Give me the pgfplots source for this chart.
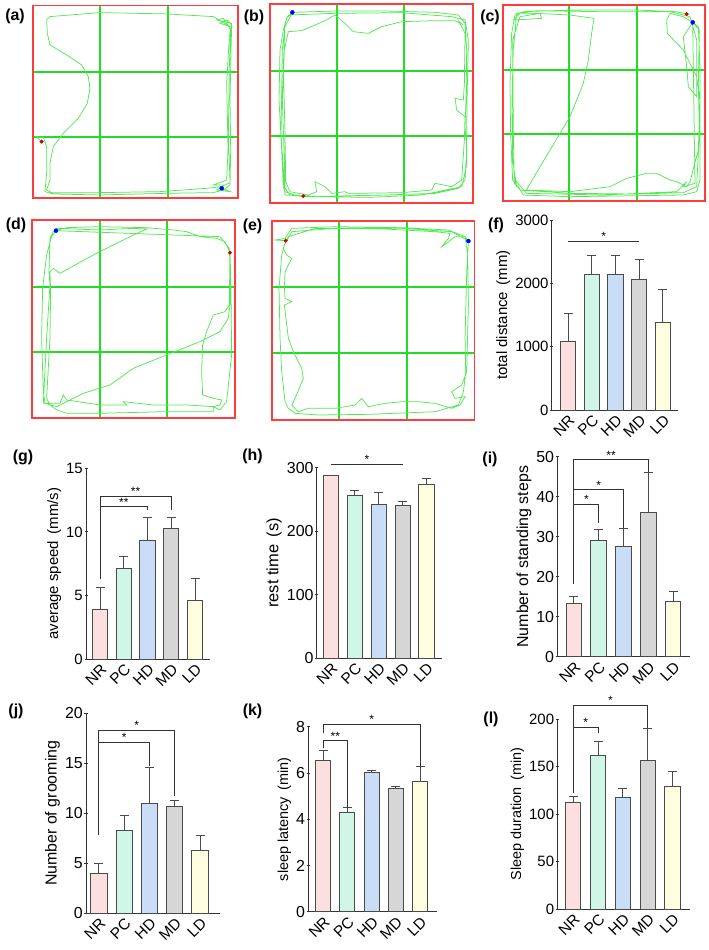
\documentclass[border=0pt]{standalone}
\usepackage{fontspec}
\setmainfont{Liberation Sans}
\usepackage{pgfplots}
\pgfplotsset{compat=1.18}
\definecolor{cNR}{HTML}{FCE0E0}
\definecolor{cPC}{HTML}{CFF6E6}
\definecolor{cHD}{HTML}{C9DEF6}
\definecolor{cMD}{HTML}{D6D6D6}
\definecolor{cLD}{HTML}{FEFDDF}
\definecolor{edge}{HTML}{4A4A4A}
\definecolor{axgray}{HTML}{333333}
\definecolor{tred}{HTML}{FF3B3B}
\definecolor{tgrid}{HTML}{22DD22}
\definecolor{trg}{HTML}{55E855}
\newcommand\fs[1]{\fontsize{#1}{#1}\selectfont}
\newcommand\lp{\hspace{0.45em}(}
\newcommand\rp{)}
\newcommand\onebar[4]{\addplot[fill=#1, draw=edge, line width=1bp,
  error bars/.cd, y dir=plus, y explicit,
  error bar style={draw=edge, line width=1bp},
  error mark options={draw=edge, line width=1bp, mark size=4.5bp, rotate=90}]
  coordinates {(#2,#3) +- (0,#4)};}
\tikzset{
  sigstar/.style={anchor=south, inner sep=0.5bp, font=\fs{12}},
  plab/.style={font=\bfseries\fs{16}}
}
\pgfplotsset{
  trk/.style={scale only axis, anchor=south west, y dir=reverse,
    axis line style={draw=tred, line width=1.7bp},
    grid=major, major grid style={draw=tgrid, line width=1.9bp},
    tick style={draw=none}, xticklabels={}, yticklabels={}},
  traj/.style={draw=trg, line width=0.75bp, no marks},
  sdot/.style={only marks, mark=*, mark size=1.8bp, color=red!80!black},
  edot/.style={only marks, mark=*, mark size=2bp, color=blue},
  barax/.style={scale only axis, anchor=south west, axis lines=left,
    axis line style={-, draw=axgray, line width=0.9bp},
    ymin=0, clip=false, xtick={0,1,2,3,4}, xticklabels={NR,PC,HD,MD,LD},
    x tick label style={rotate=45, anchor=north east, inner sep=0.5bp, font=\fs{15.5}},
    major x tick style={draw=none},
    major y tick style={draw=axgray, line width=0.9bp},
    major tick length=3bp,
    y tick label style={font=\fs{15}, inner sep=1.5bp},
    /pgf/number format/assume math mode=true, /pgf/number format/1000 sep={},
    ylabel style={font=\fs{14}},
    ybar, bar width=15.3bp, /pgf/bar shift=0pt},
  brk/.style={sharp plot, no marks, draw=axgray, line width=0.9bp}
}
\begin{document}
\begin{tikzpicture}
\useasboundingbox (0,-950bp) rectangle (709bp,0);
% ---------- (a)
\begin{axis}[trk, at={(33.3bp,-198.3bp)}, width=204.4bp, height=192.7bp,
  xmin=100,xmax=713,ymin=17,ymax=595, xtick={300,505}, ytick={215,410}]
\addplot[traj] coordinates {(125,425) (108,410) (130,412) (140,440) (140,520) (135,575) (160,582) (300,585) (500,580) (640,578) (670,570) (690,555)
 (692,450) (690,300) (693,150) (695,75) (680,60) (660,70) (690,80) (640,50) (500,42) (300,38) (150,50) (140,60) (142,100) (150,135) (200,165) (245,195) (265,230) (270,265) (262,310) (235,355) (190,400) (160,440) (150,490) (150,540) (140,570) (155,578) (300,578) (480,575) (620,565) (665,560) (690,548) (685,400) (688,200) (692,90) (670,55) (650,60) (695,70) (688,110) (680,250) (684,450) (680,540) (640,555) (675,555) (650,570) (690,575) (665,565)};
\addplot[sdot] coordinates {(125,425)};
\addplot[edot] coordinates {(665,565)};
\end{axis}
% ---------- (b)
\begin{axis}[trk, at={(270bp,-202.7bp)}, width=202.7bp, height=198.7bp,
  xmin=105,xmax=713,ymin=12,ymax=608, xtick={305,507}, ytick={212,408}]
\addplot[traj] coordinates {(205,588) (180,585) (150,575) (145,560) (140,450) (132,300) (135,150) (145,90) (155,55) (172,37) (300,33) (450,33) (600,37) (670,45) (690,70) (695,150) (693,300) (690,380) (695,450) (690,540) (670,565) (600,580) (450,585) (300,588) (210,590) (165,585) (150,565) (148,480) (142,300) (148,150) (160,95) (200,92) (270,62) (300,45) (330,70) (355,95) (400,100) (440,80) (500,65) (600,62) (660,62) (680,72) (672,65) (690,100) (688,250) (685,300) (660,295) (665,330) (690,350) (688,420) (680,540) (650,560) (600,550) (590,570) (500,578) (340,580) (330,575) (290,580) (270,560) (240,545) (245,575) (220,585) (165,575) (152,545) (150,400) (145,200) (150,70) (160,45) (300,40) (500,38) (650,50) (690,60) (700,120) (696,300) (694,500) (680,560) (560,585) (400,592) (260,590) (150,585) (138,400) (142,150) (150,80) (172,37)};
\addplot[sdot] coordinates {(205,588)};
\addplot[edot] coordinates {(172,37)};
\end{axis}
% ---------- (c)
\begin{axis}[trk, at={(503.3bp,-201bp)}, width=201.7bp, height=196.3bp,
  xmin=100,xmax=705,ymin=14,ymax=603, xtick={298,500}, ytick={210,403}]
\addplot[traj] coordinates {(650,42) (620,35) (500,30) (300,30) (160,35) (135,45) (125,100) (120,250) (122,400) (128,540) (150,570) (300,580) (500,582) (640,578) (680,560) (688,400) (685,250) (688,90) (668,67) (640,50) (600,40) (590,60) (592,100) (640,150) (665,200) (680,230) (690,300) (685,450) (660,545) (650,560) (620,545) (600,540) (560,520) (530,520) (470,535) (420,560) (300,575) (170,570) (175,560) (240,450) (300,350) (340,250) (355,180) (365,100) (372,55) (300,45) (200,40) (150,40) (130,60) (215,55) (210,40) (150,50) (128,120) (130,400) (133,550) (145,560) (160,585) (300,590) (640,585) (680,575) (690,540) (690,200) (685,80) (668,67) (640,110) (650,200) (655,260) (680,290) (680,120) (660,50) (600,35) (400,35) (200,32) (140,40) (130,150) (126,300) (128,480) (140,560) (135,540) (170,580) (400,585) (620,575) (650,545) (640,560) (675,550) (668,67)};
\addplot[sdot] coordinates {(650,42)};
\addplot[edot] coordinates {(668,67)};
\end{axis}
% ---------- (d)
\begin{axis}[trk, at={(32.3bp,-418.3bp)}, width=203bp, height=198.3bp,
  xmin=97,xmax=706,ymin=45,ymax=640, xtick={300,500}, ytick={245,440}]
\addplot[traj] coordinates {(690,143) (692,200) (690,300) (685,340) (660,380) (600,410) (500,450) (400,490) (330,540) (250,565) (170,605) (135,595) (130,560) (125,400) (128,250) (140,150) (155,95) (168,77) (200,68) (300,65) (440,68) (520,75) (560,80) (600,95) (650,100) (675,110) (690,143) (688,300) (675,320) (640,330) (620,380) (608,420) (605,500) (608,570) (640,580) (665,585) (660,600) (640,605) (640,620) (600,620) (500,620) (300,625) (200,625) (170,615) (150,600) (140,580) (150,400) (152,260) (150,200) (160,190) (180,205) (280,150) (380,100) (440,72) (400,70) (300,75) (170,70) (160,80) (150,100) (147,200) (150,240) (140,400) (130,595) (180,595) (190,570) (200,585) (300,600) (380,600) (370,590) (460,600) (560,600) (640,605) (660,615) (680,590) (695,450) (693,250) (688,130) (660,95) (168,77)};
\addplot[sdot] coordinates {(690,143)};
\addplot[edot] coordinates {(168,77)};
\end{axis}
% ---------- (e)
\begin{axis}[trk, at={(271.7bp,-420bp)}, width=202.7bp, height=199.3bp,
  xmin=110,xmax=718,ymin=47,ymax=645, xtick={313,515}, ytick={245,443}]
\addplot[traj] coordinates {(152,107) (120,105) (150,100) (170,70) (300,65) (500,68) (640,75) (690,95) (700,108) (695,200) (690,400) (692,500) (685,560) (670,600) (600,620) (400,628) (250,630) (180,625) (160,610) (150,590) (140,500) (135,400) (132,250) (140,150) (152,107) (160,95) (240,70) (450,72) (600,80) (645,85) (640,100) (620,125) (640,110) (660,95) (690,95) (698,150) (700,300) (695,500) (680,540) (650,560) (660,580) (690,575) (675,600) (650,610) (600,595) (550,590) (500,590) (450,595) (400,605) (380,580) (360,600) (300,610) (220,610) (190,620) (170,600) (180,580) (205,520) (200,490) (175,440) (160,400) (148,300) (170,290) (150,280) (148,250) (150,200) (170,160) (155,150) (145,130) (148,120) (170,80) (300,70) (500,70) (650,80) (700,108)};
\addplot[sdot] coordinates {(152,107)};
\addplot[edot] coordinates {(700,108)};
\end{axis}
% ---------- (f)
\begin{axis}[barax, at={(551.7bp,-410bp)}, width=126.6bp, height=190bp,
  xmin=-0.69, xmax=4.65, ymax=3000, ytick={0,1000,2000,3000},
  ylabel={total distance\lp mm\rp}, ylabel style={font=\fs{15}}]
\onebar{cNR}{0}{1089}{437}
\onebar{cPC}{1}{2137}{300}
\onebar{cHD}{2}{2137}{300}
\onebar{cMD}{3}{2058}{321}
\onebar{cLD}{4}{1379}{531}
\addplot[brk] coordinates {(0,2658) (3,2658)};
\node[sigstar] at (axis cs:1.5,2658) {*};
\end{axis}
% ---------- (g)
\begin{axis}[barax, at={(86bp,-659bp)}, width=124bp, height=190.7bp,
  xmin=-0.59, xmax=4.63, ymax=15, ytick={0,5,10,15},
  ylabel={average speed\lp mm/s\rp}, ylabel style={font=\fs{15}}]
\onebar{cNR}{0}{3.9}{1.74}
\onebar{cPC}{1}{7.13}{0.97}
\onebar{cHD}{2}{9.31}{1.79}
\onebar{cMD}{3}{10.25}{0.9}
\onebar{cLD}{4}{4.59}{1.76}
\addplot[brk] coordinates {(0,6.27) (0,12.77) (3,12.77) (3,11.72)};
\addplot[brk] coordinates {(0,11.98) (2,11.98) (2,11.72)};
\node[sigstar] at (axis cs:1.5,12.77) {**};
\node[sigstar] at (axis cs:1,11.98) {**};
\end{axis}
% ---------- (h)
\begin{axis}[barax, at={(316.7bp,-658.3bp)}, width=125.6bp, height=190.6bp,
  xmin=-0.6, xmax=4.66, ymax=300, ytick={0,100,200,300},
  ylabel={rest time\lp s\rp}, ylabel style={font=\fs{16.5}}, y tick label style={font=\fs{16}}]
\onebar{cNR}{0}{287}{1}
\onebar{cPC}{1}{257}{6.8}
\onebar{cHD}{2}{242.4}{18.3}
\onebar{cMD}{3}{240.2}{6.3}
\onebar{cLD}{4}{273.9}{8.8}
\addplot[brk] coordinates {(0,305.4) (3,305.4)};
\node[sigstar] at (axis cs:1.5,305.4) {*};
\end{axis}
% ---------- (i)
\begin{axis}[barax, at={(557.3bp,-656.7bp)}, width=132.7bp, height=200bp,
  xmin=-0.67, xmax=4.68, ymax=50, ytick={0,10,20,30,40,50},
  ylabel={Number of standing steps}, ylabel style={font=\fs{16}},
  y tick label style={font=\fs{16}}, bar width=15.7bp]
\onebar{cNR}{0}{13.3}{1.7}
\onebar{cPC}{1}{29}{2.9}
\onebar{cHD}{2}{27.6}{4.5}
\onebar{cMD}{3}{36}{10}
\onebar{cLD}{4}{13.7}{2.5}
\addplot[brk] coordinates {(0,18.3) (0,49.2) (3,49.2) (3,46.3)};
\addplot[brk] coordinates {(0,41.7) (2,41.7) (2,32.3)};
\addplot[brk] coordinates {(0,38.1) (1,38.1) (1,33.5)};
\node[sigstar] at (axis cs:1.5,49.2) {**};
\node[sigstar] at (axis cs:1,41.7) {*};
\node[sigstar] at (axis cs:0.5,38.1) {*};
\end{axis}
% ---------- (j)
\begin{axis}[barax, at={(86bp,-913.3bp)}, width=134bp, height=200bp,
  xmin=-0.51, xmax=4.79, ymax=20, ytick={0,5,10,15,20},
  ylabel={Number of grooming}, ylabel style={font=\fs{16}},
  y tick label style={font=\fs{16}}, bar width=16.3bp]
\onebar{cNR}{0}{4.0}{1.0}
\onebar{cPC}{1}{8.27}{1.56}
\onebar{cHD}{2}{11.0}{3.6}
\onebar{cMD}{3}{10.67}{0.6}
\onebar{cLD}{4}{6.27}{1.56}
\addplot[brk] coordinates {(0,7.83) (0,18.27) (3,18.27) (3,11.73)};
\addplot[brk] coordinates {(0,17.1) (2,17.1) (2,14.7)};
\node[sigstar] at (axis cs:1.5,18.27) {*};
\node[sigstar] at (axis cs:1,17.1) {*};
\end{axis}
% ---------- (k)
\begin{axis}[barax, at={(308.3bp,-911.7bp)}, width=128.4bp, height=185bp,
  xmin=-0.62, xmax=4.69, ymax=8, ytick={0,2,4,6,8},
  ylabel={sleep latency\lp min\rp}, ylabel style={font=\fs{14.5}},
  y tick label style={font=\fs{16}}, bar width=15bp]
\onebar{cNR}{0}{6.52}{0.44}
\onebar{cPC}{1}{4.27}{0.23}
\onebar{cHD}{2}{6.03}{0.08}
\onebar{cMD}{3}{5.32}{0.1}
\onebar{cLD}{4}{5.64}{0.63}
\addplot[brk] coordinates {(0,7.71) (0,8.1) (4,8.1) (4,6.2)};
\addplot[brk] coordinates {(0,7.07) (0,7.39) (1,7.39) (1,4.47)};
\node[sigstar] at (axis cs:2,8.1) {*};
\node[sigstar] at (axis cs:0.5,7.39) {**};
\end{axis}
% ---------- (l)
\begin{axis}[barax, at={(557.3bp,-909bp)}, width=132.7bp, height=189.7bp,
  xmin=-0.64, xmax=4.7, ymax=200, ytick={0,50,100,150,200},
  ylabel={Sleep duration\lp min\rp}, ylabel style={font=\fs{14.5}}]
\onebar{cNR}{0}{112.8}{5.6}
\onebar{cPC}{1}{161.6}{15.4}
\onebar{cHD}{2}{118}{9.2}
\onebar{cMD}{3}{157}{33.5}
\onebar{cLD}{4}{129.3}{15.5}
\addplot[brk] coordinates {(0,122) (0,215) (3,215) (3,190.5)};
\addplot[brk] coordinates {(0,191.2) (1,191.2) (1,185.2)};
\node[sigstar] at (axis cs:1.5,215) {*};
\node[sigstar] at (axis cs:0.5,191.2) {*};
\end{axis}
% ---------- panel labels
\node[plab] at (15bp,-16bp) {(a)};
\node[plab] at (254bp,-17.5bp) {(b)};
\node[plab] at (490bp,-17.5bp) {(c)};
\node[plab] at (16bp,-225bp) {(d)};
\node[plab] at (252.5bp,-226.7bp) {(e)};
\node[plab] at (496bp,-225bp) {(f)};
\node[plab] at (23bp,-457.5bp) {(g)};
\node[plab] at (252.5bp,-456bp) {(h)};
\node[plab] at (490bp,-459bp) {(i)};
\node[plab] at (16bp,-711bp) {(j)};
\node[plab] at (252.5bp,-711.7bp) {(k)};
\node[plab] at (491bp,-719bp) {(l)};
\end{tikzpicture}
\end{document}
